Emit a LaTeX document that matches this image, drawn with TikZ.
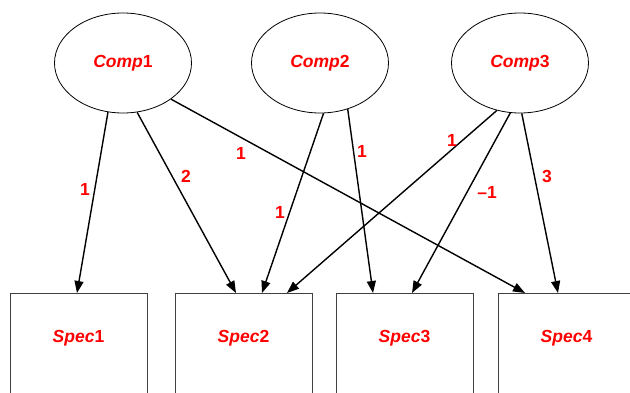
\documentclass[tikz,border=0pt]{standalone}
\usepackage{fontspec}
\setmainfont{Liberation Sans}
\usetikzlibrary{shapes.geometric,arrows.meta}
\begin{document}
\begin{tikzpicture}[x=1pt,y=-1pt,
  comp/.style={ellipse,draw=black,line width=0.8pt,minimum width=137pt,minimum height=100pt,inner sep=0pt,
    font=\fontsize{17.5}{20}\selectfont\bfseries,text=red},
  spec/.style={rectangle,draw=black!75,line width=1pt,minimum width=137pt,minimum height=130pt,inner sep=0pt,anchor=north},
  stxt/.style={font=\fontsize{17.5}{20}\selectfont\bfseries,text=red},
  lab/.style={font=\fontsize{17.5}{20}\selectfont\bfseries,text=red},
  arr/.style={line width=1.4pt,-{Triangle[length=12pt,width=9pt]}}]
\useasboundingbox (0,0) rectangle (630,393);
\clip (0,0) rectangle (630,393);
\node[comp] (c1) at (123,63) {\textit{Comp}1};
\node[comp] (c2) at (320,63) {\textit{Comp}2};
\node[comp] (c3) at (520,63) {\textit{Comp}3};
\node[spec] (s1) at (78.5,293) {};
\node[spec] (s2) at (243.5,293) {};
\node[spec] (s3) at (404.5,293) {};
\node[spec] (s4) at (566.5,293) {};
\node[stxt] (t1) at (78.5,338) {\textit{Spec}1};
\node[stxt] (t2) at (243.5,338) {\textit{Spec}2};
\node[stxt] (t3) at (404.5,338) {\textit{Spec}3};
\node[stxt] (t4) at (566.5,338) {\textit{Spec}4};
\draw[arr] (c1.-107) -- ([xshift=-1.5pt]s1.north);
\draw[arr] (c1.-74) -- ([xshift=-7.5pt]s2.north);
\draw[arr] (c1.-37.5) -- ([xshift=-41.5pt]s4.north);
\draw[arr] (c2.-86.6) -- ([xshift=18.5pt]s2.north);
\draw[arr] (c2.-59.2) -- ([xshift=-31.5pt]s3.north);
\draw[arr] (c3.-116) -- ([xshift=43.5pt]s2.north);
\draw[arr] (c3.-101) -- ([xshift=7.5pt]s3.north);
\draw[arr] (c3.-88) -- ([xshift=-8.5pt]s4.north);
\node[lab] (l1) at (85,189) {1};
\node[lab] (l2) at (186,176) {2};
\node[lab] (l3) at (241,153) {1};
\node[lab] (l4) at (280,212) {1};
\node[lab] (l5) at (362,151) {1};
\node[lab] (l6) at (452,140) {1};
\node[lab] (l7) at (487,192) {--1};
\node[lab] (l8) at (547,176) {3};
\end{tikzpicture}
\end{document}
